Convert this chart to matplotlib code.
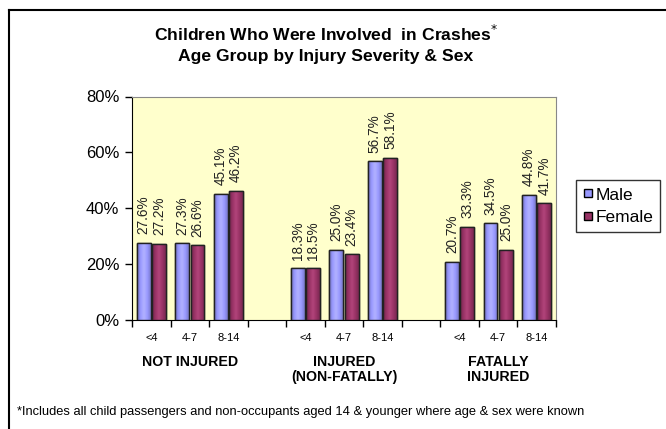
import numpy as np
import matplotlib

matplotlib.use("Agg")
import matplotlib.pyplot as plt
from matplotlib.lines import Line2D
from matplotlib.colors import LinearSegmentedColormap

plt.rcParams["font.family"] = ["Liberation Sans", "DejaVu Sans"]

# data
groups = ["NOT INJURED", "INJURED\n(NON-FATALLY)", "FATALLY\nINJURED"]
ages = ["<4", "4-7", "8-14"]
male = [27.6, 27.3, 45.1, 18.3, 25.0, 56.7, 20.7, 34.5, 44.8]
female = [27.2, 26.6, 46.2, 18.5, 23.4, 58.1, 33.3, 25.0, 41.7]
y_ticks = [0, 20, 40, 60, 80]

MALE_C = "#9999FF"
FEMALE_C = "#993366"

W, H = 666, 429
fig = plt.figure(figsize=(W / 100, H / 100), dpi=100)
ax = fig.add_axes([132 / W, 1 - 319.5 / H, (556 - 132) / W, (319.5 - 96.5) / H])
ax.set_facecolor("#FFFFCC")

# slot positions: 3 ages per group, one empty slot between groups
slots = np.array([g * 4 + i for g in range(3) for i in range(3)], dtype=float)
bw = 0.36
off = 0.2


def shaded(color):
    c = np.array(matplotlib.colors.to_rgb(color))
    dark = c * 0.72
    light = np.minimum(c * 1.08 + 0.05, 1)
    return LinearSegmentedColormap.from_list("g", [dark, c, light, c, dark * 1.1])


grad = np.linspace(0, 1, 64).reshape(1, -1)
for vals, dx, col in ((male, -off, MALE_C), (female, off, FEMALE_C)):
    bars = ax.bar(slots + dx, vals, width=bw, color=col, edgecolor="#222222",
                  linewidth=1.0, zorder=3)
    cmap = shaded(col)
    for b, v in zip(bars, vals):
        x0 = b.get_x()
        im = ax.imshow(grad, cmap=cmap, aspect="auto", zorder=3.5,
                       extent=(x0, x0 + bw, 0, v), interpolation="bilinear")
        im.set_clip_path(b)
        ax.bar(b.get_x() + bw / 2, v, width=bw, fill=False, edgecolor="#222222",
               linewidth=1.0, zorder=4)
        ax.annotate(f"{v:.1f}%", (b.get_x() + bw / 2, v), xytext=(0, 6),
                    textcoords="offset points", rotation=90, ha="center",
                    va="bottom", fontsize=9.8, color="#222222")

ax.set_xlim(-0.5, 10.5)
ax.set_ylim(0, 80)
ax.set_yticks(y_ticks)
ax.set_yticklabels([f"{t}%" for t in y_ticks], fontsize=12)
ax.set_xticks(np.arange(-0.5, 11, 1))
ax.set_xticklabels([])
ax.tick_params(axis="both", direction="out", length=5, width=1, color="black")
ax.tick_params(axis="y", pad=4)
for s in ("top", "right"):
    ax.spines[s].set_color("#888888")
for s in ("left", "bottom"):
    ax.spines[s].set_color("black")

for x, lab in zip(slots, ages * 3):
    ax.text(x, -6.5, lab, ha="center", va="center", fontsize=8)
for g, lab in enumerate(groups):
    ax.text(g * 4 + 1, -12.6, lab, ha="center", va="top", fontsize=10.2,
            fontweight="bold", linespacing=1.15)

fig.text(326 / W, 1 - 44 / H, "Children Who Were Involved  in Crashes$^{*}$\nAge Group by Injury Severity & Sex",
         ha="center", va="center", fontsize=12.6, fontweight="bold",
         linespacing=1.45)

fig.text(17 / W, 1 - 412 / H,
         "*Includes all child passengers and non-occupants aged 14 & younger where age & sex were known",
         ha="left", va="center", fontsize=9.3)

handles = [
    Line2D([], [], ls="none", marker="s", markersize=6, markerfacecolor=MALE_C,
           markeredgecolor="black", label="Male"),
    Line2D([], [], ls="none", marker="s", markersize=6, markerfacecolor=FEMALE_C,
           markeredgecolor="black", label="Female"),
]
leg = fig.legend(handles=handles, loc="center", bbox_to_anchor=(618 / W, 1 - 206 / H),
                 fontsize=12.5, frameon=True, fancybox=False, handlelength=0.6,
                 handletextpad=0.1, borderpad=0.4, labelspacing=0.4)
leg.get_frame().set_edgecolor("black")
leg.get_frame().set_linewidth(1.0)

# outer frame (top and left edges visible)
fig.add_artist(Line2D([9 / W, 1], [1 - 9.5 / H, 1 - 9.5 / H], color="black", lw=1.5,
                      transform=fig.transFigure))
fig.add_artist(Line2D([9 / W, 9 / W], [0, 1 - 9.5 / H], color="black", lw=1.5,
                      transform=fig.transFigure))

fig.savefig("out.png", dpi=100)
